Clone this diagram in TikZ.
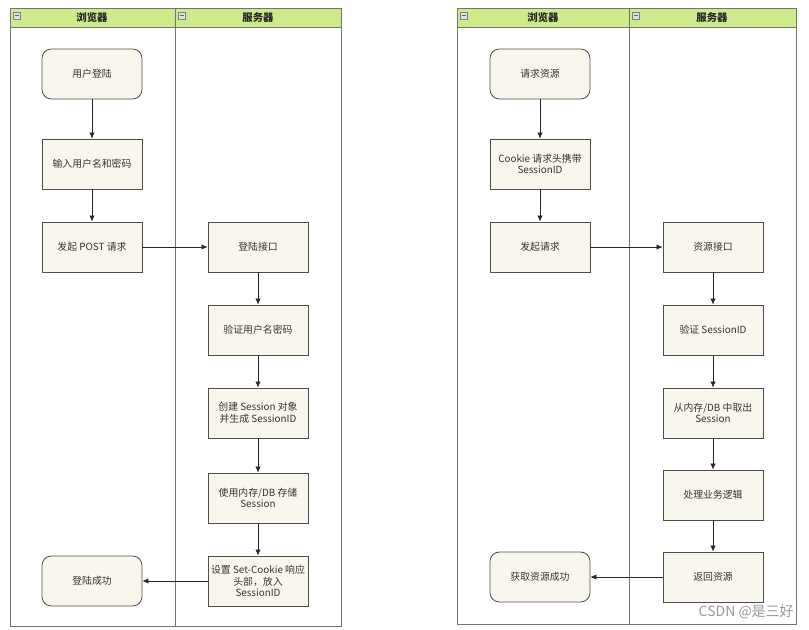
\documentclass[tikz,border=0pt]{standalone}
\usepackage{fontspec}
\setmainfont{Noto Sans CJK SC}
\usepackage{xcolor}
\usetikzlibrary{arrows.meta}
\usetikzlibrary{positioning}
\definecolor{cabecera}{HTML}{CDEB8B}
\definecolor{caja}{HTML}{F9F7ED}
\definecolor{borde}{HTML}{4D4D4D}

\begin{document}
\begin{tikzpicture}[x=0.75pt, y=-0.75pt,
    paso/.style={rectangle, draw=borde, fill=caja, minimum width=75pt, minimum height=37.5pt, inner sep=1pt, align=center, font=\fontsize{7.4}{8.8}\selectfont, text=black!80, line width=0.6pt},
    inicio/.style={paso, rounded corners=7pt},
    flecha/.style={-{Latex[length=4.5pt,width=4pt]}, line width=0.5pt, black!85},
    carril/.style={draw=black!55, line width=0.7pt},
    titulo/.style={font=\fontsize{7.8}{9}\selectfont\bfseries, text=black!85}]

    \useasboundingbox (0,0) rectangle (809,630);

    % Carriles
    \fill[cabecera] (10,8) rectangle (341,27);
    \fill[cabecera] (457,8) rectangle (796,27);
    \draw[carril] (10,8) rectangle (341,626);
    \draw[carril] (10,27) -- (341,27);
    \draw[carril] (175,8) -- (175,626);
    \draw[carril] (457,8) rectangle (796,624);
    \draw[carril] (457,27) -- (796,27);
    \draw[carril] (629,8) -- (629,624);
    \foreach \x in {13,178,460,632} {
        \draw[black!50, fill=black!12, line width=0.4pt] (\x,12) rectangle ++(7,7);
        \draw[black!60, line width=0.5pt] (\x+1.5,15.5) -- ++(4,0);
    }

    \node[titulo] (h1) at (92,17.5) {浏览器};
    \node[titulo] (h2) at (258,17.5) {服务器};
    \node[titulo] (h3) at (543,17.5) {浏览器};
    \node[titulo] (h4) at (712,17.5) {服务器};

    % Nodos: inicio de sesion
    \node[inicio] (b1) at (92,74) {用户登陆};
    \node[paso] (b2) at (92,164) {输入用户名和密码};
    \node[paso] (b3) at (92,247) {发起 POST 请求};
    \node[paso] (s1) at (258,247) {登陆接口};
    \node[paso] (s2) at (258,330) {验证用户名密码};
    \node[paso] (s3) at (258,413) {创建 Session 对象\\并生成 SessionID};
    \node[paso] (s4) at (258,498) {使用内存/DB 存储\\Session};
    \node[paso] (s5) at (258,581) {设置 Set-Cookie 响应\\头部，放入\\SessionID};
    \node[inicio] (b4) at (92,581) {登陆成功};

    % Nodos: pedir recurso
    \node[inicio] (c1) at (540,74) {请求资源};
    \node[paso] (c2) at (540,164) {Cookie 请求头携带\\SessionID};
    \node[paso] (c3) at (540,247) {发起请求};
    \node[paso] (t1) at (713,247) {资源接口};
    \node[paso] (t2) at (713,330) {验证 SessionID};
    \node[paso] (t3) at (713,413) {从内存/DB 中取出\\Session};
    \node[paso] (t4) at (713,495) {处理业务逻辑};
    \node[paso] (t5) at (713,577) {返回资源};
    \node[inicio] (c4) at (540,577) {获取资源成功};

    % Aristas
    \draw[flecha] (b1) -- (b2);
    \draw[flecha] (b2) -- (b3);
    \draw[flecha] (b3) -- (s1);
    \draw[flecha] (s1) -- (s2);
    \draw[flecha] (s2) -- (s3);
    \draw[flecha] (s3) -- (s4);
    \draw[flecha] (s4) -- (s5);
    \draw[flecha] (s5) -- (b4);

    \draw[flecha] (c1) -- (c2);
    \draw[flecha] (c2) -- (c3);
    \draw[flecha] (c3) -- (t1);
    \draw[flecha] (t1) -- (t2);
    \draw[flecha] (t2) -- (t3);
    \draw[flecha] (t3) -- (t4);
    \draw[flecha] (t4) -- (t5);
    \draw[flecha] (t5) -- (c4);

    \node[text=black!40, font=\fontsize{10.5}{12}\selectfont, anchor=east, inner sep=0pt] (marca) at (794,612) {CSDN @是三好};

\end{tikzpicture}
\end{document}
